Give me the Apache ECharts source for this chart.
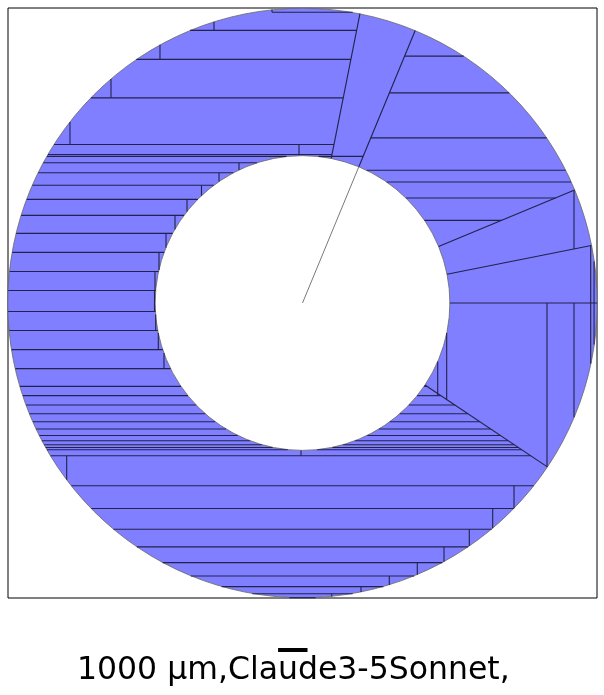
<!DOCTYPE html>
<html><head><meta charset="utf-8">
<script src="https://cdn.jsdelivr.net/npm/echarts@6/dist/echarts.min.js"></script>
<style>html,body{margin:0;padding:0;background:#fff}#c{width:604px;height:695px}</style>
</head><body><div id="c"></div>
<script>
// ---- data (µm) ----
const outerRadius = 10000;
const innerRadius = 5000;
const radialCutAngles = [78.75, 67.5, 22.5, 11.25, 0, -33.75]; // degrees, CCW from +x
const seamAngle = 67.5;
// horizontal cuts: [y, xStart, xEnd]; null = open to the ring edge
const horizontalCuts = [
  [9854, -1036, 1959], [9243, null, 1839], [8258, null, 1643], [6954, null, 1382],
  [5372, null, 1070], [5032, null, 1001], [4970, null, 2059],
  [4754, null, 0], [4414, null, 0], [3990, null, 0], [3514, null, 0], [2971, null, 0],
  [2360, null, 0], [1715, null, 0], [1070, null, 0], [424, null, 0], [-289, null, 0],
  [-934, null, 0], [-1579, null, 0], [-2224, null, 0],
  [-2825, null, 4228], [-3141, null, 4701], [-3457, null, 5174], [-3752, null, 5615],
  [-4024, null, 6022], [-4272, null, 6393], [-4489, null, 6718], [-4669, null, 6988],
  [-4805, null, 7191], [-4896, null, 7328], [-4975, null, 7445], [-5178, null, 7750],
  [-6197, null, null], [-6968, null, null], [-7667, null, null], [-8268, null, null],
  [-8801, null, null], [-9253, null, null], [-9616, null, null], [-9854, null, null],
  [-9990, null, null],
  [8370, 3467, null], [7124, 2951, null], [5596, 2318, null], [4499, 0, null],
  [4102, 0, null], [3559, 0, 8592], [2801, 0, 6763]
];
// vertical cuts: [x, yStart, yEnd]; null = open to the ring edge
const verticalCuts = [
  [-1036, null, 9854], [-3005, 9854, 9243], [-4839, 9243, 8258], [-6503, 8258, 6954],
  [-7895, 6954, 5372], [-119, 5372, 5032], [-2156, 4754, 4414], [-2835, 4414, 3990],
  [-3430, 3990, 3514], [-3922, 3514, 2971], [-4329, 2971, 2360], [-4635, 2360, 1715],
  [-4873, 1715, 1070], [-5009, 1070, 424], [-5025, 424, -289], [-4985, -289, -934],
  [-4896, -934, -1579], [-4703, -1579, -2224], [-51, -4975, -5178], [-8007, -5178, -6197],
  [7182, -6197, -6968], [6458, -6968, -7667], [5664, -7667, -8268], [4805, -8268, -8801],
  [3898, -8801, -9253], [2947, -9253, -9616], [1986, -9616, -9854], [992, -9854, -9990],
  [4591, 0, -3141], [4896, 0, -3271], [8302, 0, -5547], [9219, 0, null],
  [9786, 1947, null], [9900, 2000, null], [9219, 3819, 1834]
];
const scaleBarStart = -830;   // µm
const scaleBarLength = 1000;  // µm
const titleText = '1000 µm,Claude3-5Sonnet,';

// ---- geometry helpers ----
const OPEN = 12000;
function clipToRing(ax, ay, bx, by, r0, r1) {
  const dx = bx - ax, dy = by - ay;
  const a = dx * dx + dy * dy, b = 2 * (ax * dx + ay * dy), c0 = ax * ax + ay * ay;
  function roots(r) {
    const d = b * b - 4 * a * (c0 - r * r);
    if (d <= 0) return null;
    const s = Math.sqrt(d);
    return [(-b - s) / (2 * a), (-b + s) / (2 * a)];
  }
  const o = roots(r1);
  if (!o) return [];
  const lo = Math.max(0, o[0]), hi = Math.min(1, o[1]);
  if (lo >= hi) return [];
  let iv = [[lo, hi]];
  const h = roots(r0);
  if (h) {
    iv = [];
    if (h[0] > lo) iv.push([lo, Math.min(hi, h[0])]);
    if (h[1] < hi) iv.push([Math.max(lo, h[1]), hi]);
    iv = iv.filter(v => v[1] > v[0]);
  }
  return iv.map(([t0, t1]) => [ax + t0 * dx, ay + t0 * dy, ax + t1 * dx, ay + t1 * dy]);
}
const cutSegments = [];
horizontalCuts.forEach(([y, x0, x1]) => {
  clipToRing(x0 == null ? -OPEN : x0, y, x1 == null ? OPEN : x1, y, innerRadius, outerRadius)
    .forEach(s => cutSegments.push(s));
});
verticalCuts.forEach(([x, y0, y1]) => {
  clipToRing(x, y0 == null ? OPEN : y0, x, y1 == null ? -OPEN : y1, innerRadius, outerRadius)
    .forEach(s => cutSegments.push(s));
});
radialCutAngles.forEach(a => {
  const t = a * Math.PI / 180;
  cutSegments.push([innerRadius * Math.cos(t), innerRadius * Math.sin(t),
                    outerRadius * Math.cos(t), outerRadius * Math.sin(t)]);
});
const st = seamAngle * Math.PI / 180;
const seamSegments = [[0, 0, innerRadius * Math.cos(st), innerRadius * Math.sin(st)]];

function lineItem(color, width) {
  return function (params, api) {
    const p0 = api.coord([api.value(0), api.value(1)]);
    const p1 = api.coord([api.value(2), api.value(3)]);
    return { type: 'line', shape: { x1: p0[0], y1: p0[1], x2: p1[0], y2: p1[1] },
             style: { stroke: color, lineWidth: width } };
  };
}

const chart = echarts.init(document.getElementById('c'), null, { renderer: 'canvas' });
chart.setOption({
  animation: false,
  backgroundColor: '#fff',
  grid: { left: 8, top: 8, width: 589, height: 590, show: true, borderColor: '#000', borderWidth: 1, backgroundColor: 'transparent' },
  xAxis: { type: 'value', min: -outerRadius, max: outerRadius, show: false },
  yAxis: { type: 'value', min: -outerRadius, max: outerRadius, show: false },
  series: [
    {
      type: 'custom', clip: false, data: [[0, 0]],
      renderItem: function (params, api) {
        const c = api.coord([0, 0]);
        const r = api.size([outerRadius, outerRadius]);
        const r0 = api.size([innerRadius, innerRadius]);
        return { type: 'ring', shape: { cx: c[0], cy: c[1], r: (r[0] + r[1]) / 2, r0: (r0[0] + r0[1]) / 2 },
                 style: { fill: '#7f7fff', stroke: '#666', lineWidth: 0.8 } };
      }
    },
    { type: 'custom', clip: false, data: cutSegments, encode: { x: [0, 2], y: [1, 3] }, renderItem: lineItem('#22224a', 1.1) },
    { type: 'custom', clip: false, data: seamSegments, encode: { x: [0, 2], y: [1, 3] }, renderItem: lineItem('#7a7a7a', 1) }
  ]
});
const bx0 = chart.convertToPixel({ xAxisIndex: 0 }, scaleBarStart);
const bx1 = chart.convertToPixel({ xAxisIndex: 0 }, scaleBarStart + scaleBarLength);
chart.setOption({
  graphic: [
    { type: 'rect', shape: { x: bx0, y: 648, width: bx1 - bx0, height: 4 }, style: { fill: '#000' } },
    { type: 'text', x: 77, y: 671, style: { text: titleText, font: '31.5px "DejaVu Sans"', fill: '#000', textVerticalAlign: 'middle' } }
  ]
});
</script></body></html>
